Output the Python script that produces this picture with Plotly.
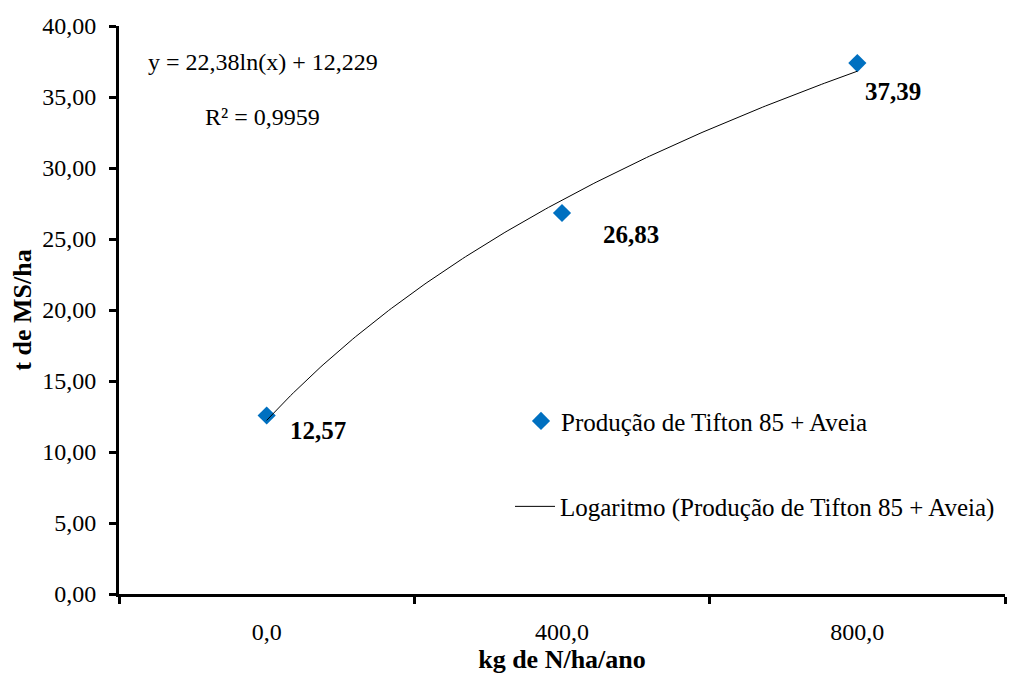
import numpy as np
import plotly.graph_objects as go

categories = ["0,0", "400,0", "800,0"]
cat_pos = [1, 2, 3]
producao = [12.57, 26.83, 37.39]
label_text = ["12,57", "26,83", "37,39"]
trend_a = 22.38
trend_b = 12.229
r2_text = "R² = 0,9959"
eq_text = "y = 22,38ln(x) + 12,229"

# label offsets in px (style)
label_dx = [51, 69, 36]
label_dy = [-15, -21, -28]

FONT = "Liberation Serif, Times New Roman, serif"

xt = np.linspace(1, 3, 200)
yt = trend_a * np.log(xt) + trend_b

W, H = 1011, 675
L, R, T, B = 119, 6, 26, 77
pw, ph = W - L - R, H - T - B


def px(x):
    return (x - L) / pw


def py(y):
    return 1 - (y - T) / ph


fig = go.Figure()
fig.add_trace(go.Scatter(
    x=cat_pos, y=producao, mode="markers",
    marker=dict(symbol="diamond", size=14, color="#0070C0"),
    name="Produção de Tifton 85 + Aveia", legend="legend",
))
fig.add_trace(go.Scatter(
    x=xt, y=yt, mode="lines",
    line=dict(color="#000000", width=1),
    name="Logaritmo (Produção de Tifton 85 + Aveia)", legend="legend2",
))

for xp, yp, t, dx, dy in zip(cat_pos, producao, label_text, label_dx, label_dy):
    fig.add_annotation(x=xp, y=yp, xref="x", yref="y", text=f"<b>{t}</b>",
                       showarrow=False, xshift=dx, yshift=dy,
                       xanchor="center", yanchor="middle",
                       font=dict(family=FONT, size=25, color="black"))

fig.add_annotation(x=px(263), y=py(62), xref="paper", yref="paper", text=eq_text,
                   showarrow=False, xanchor="center", yanchor="middle",
                   font=dict(family=FONT, size=24, color="black"))
fig.add_annotation(x=px(262), y=py(118), xref="paper", yref="paper", text=r2_text,
                   showarrow=False, xanchor="center", yanchor="middle",
                   font=dict(family=FONT, size=24, color="black"))

fig.update_layout(
    width=W, height=H,
    margin=dict(l=L, r=R, t=T, b=B),
    paper_bgcolor="white", plot_bgcolor="white",
    separators=",.",
    font=dict(family=FONT, size=24, color="black"),
    showlegend=True,
    legend=dict(x=px(521), y=py(424), xanchor="left", yanchor="middle",
                bgcolor="rgba(0,0,0,0)", font=dict(family=FONT, size=25), itemwidth=30),
    legend2=dict(x=px(510), y=py(510), xanchor="left", yanchor="middle",
                 bgcolor="rgba(0,0,0,0)", font=dict(family=FONT, size=25), itemwidth=40),
    xaxis=dict(
        range=[0.5, 3.5], tickmode="array", tickvals=cat_pos, ticktext=categories,
        ticks="", showline=True, linecolor="black", linewidth=3, showgrid=False, zeroline=False,
        minor=dict(tickmode="linear", tick0=0.5, dtick=1, ticks="outside", ticklen=7,
                   tickwidth=3, tickcolor="black", showgrid=False),
        ticklabelstandoff=14,
        title=dict(text="<b>kg de N/ha/ano</b>", font=dict(family=FONT, size=26), standoff=6),
        tickfont=dict(family=FONT, size=24),
    ),
    yaxis=dict(
        range=[0, 40], tickmode="linear", tick0=0, dtick=5, tickformat=".2f",
        ticks="outside", ticklen=7, tickwidth=3, tickcolor="black",
        showline=True, linecolor="black", linewidth=3, showgrid=False, zeroline=False,
        ticklabelstandoff=8,
        title=dict(text="<b>t de MS/ha</b>", font=dict(family=FONT, size=26), standoff=4),
        tickfont=dict(family=FONT, size=24),
    ),
)

fig.write_html("out.html", config={"displayModeBar": False},
               post_script="document.body.style.margin='0';document.body.style.overflow='hidden';")
